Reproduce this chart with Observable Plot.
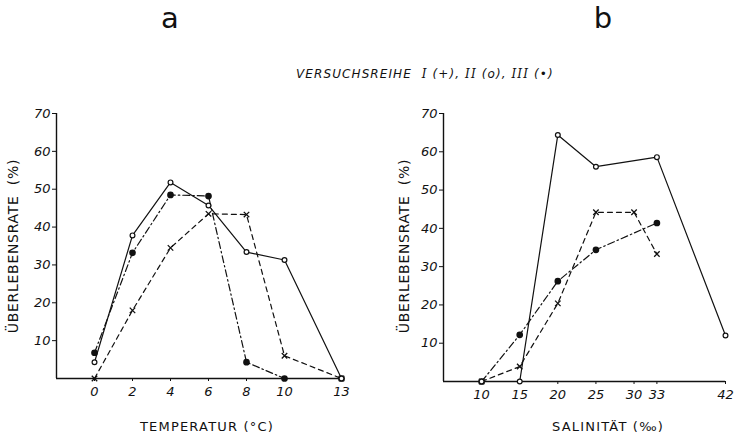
<!DOCTYPE html>
<html>
<head>
<meta charset="utf-8">
<script src="https://cdn.jsdelivr.net/npm/d3@7"></script>
<script src="https://cdn.jsdelivr.net/npm/@observablehq/plot@0.6"></script>
<style>
  html, body { margin: 0; padding: 0; background: #fff; }
  #wrap { position: relative; width: 737px; height: 440px; overflow: hidden; font-family: "DejaVu Sans", sans-serif; color: #111; }
  .abs { position: absolute; white-space: nowrap; }
  .panel { position: absolute; top: 0; }
  .ylab { transform: translate(-50%, -50%) rotate(-90deg); font-size: 14px; letter-spacing: 0.7px; }
  .xlab { transform: translate(-50%, -50%); font-size: 13px; letter-spacing: 1.2px; }
  .letter { transform: translate(-50%, 0); font-size: 29px; line-height: 30px; }
</style>
</head>
<body>
<div id="wrap">
  <div class="abs letter" style="left:170px; top:3px;">a</div>
  <div class="abs letter" style="left:603px; top:3px;">b</div>
  <div class="abs" style="left:296px; top:67px; font-size:12px; font-style:italic; letter-spacing:1.1px;">VERSUCHSREIHE&nbsp; <span style="font-family:'DejaVu Serif',serif;">I</span> (+), <span style="font-family:'DejaVu Serif',serif;">II</span> (<span>o</span>), <span style="font-family:'DejaVu Serif',serif;">III</span> (&#8226;)</div>
  <div class="abs ylab" style="left:13px; top:246px;">ÜBERLEBENSRATE&nbsp; (%)</div>
  <div class="abs ylab" style="left:404px; top:246px;">ÜBERLEBENSRATE&nbsp; (%)</div>
  <div class="abs xlab" style="left:207px; top:426px;">TEMPERATUR (°C)</div>
  <div class="abs xlab" style="left:608px; top:426px;">SALINITÄT (‰)</div>
  <div id="left" class="panel" style="left:0px;"></div>
  <div id="right" class="panel" style="left:390px;"></div>
</div>
<script>
// ---- Panel a: temperature ----
const tempX = [0, 2, 4, 6, 8, 10, 13];
const tempI = [0, 18, 34.5, 43.5, 43.3, 6, 0];       // crosses, dashed
const tempII = [4.3, 37.8, 51.8, 45.7, 33.4, 31.3, 0]; // open circles, solid
const tempIII = [6.8, 33.2, 48.5, 48.2, 4.3, 0, 0];   // filled circles, dash-dot
const tempTicks = [0, 2, 4, 6, 8, 10, 13];

// ---- Panel b: salinity ----
const salXI = [10, 15, 20, 25, 30, 33];
const salI = [0, 3.9, 20.4, 44.2, 44.2, 33.3];
const salXII = [10, 15, 20, 25, 33, 42];
const salII = [0, 0, 64.4, 56.1, 58.6, 12];
const salXIII = [10, 15, 20, 25, 33];
const salIII = [0, 12.2, 26.2, 34.4, 41.4];
const salTicks = [10, 15, 20, 25, 30, 33, 42];

const yTicks = [10, 20, 30, 40, 50, 60, 70];

const toRows = (xs, ys) => xs.map((x, i) => ({x, y: ys[i]}));

const ink = "#111";
const dashI = "5,4";
const dashIII = "7,3,1.5,3";

function panel({xDomain, xTicks, series, width, marginLeft, marginRight, marginBottom}) {
  const [sI, sII, sIII] = series;
  return Plot.plot({
    width, height: 440,
    marginLeft, marginRight, marginTop: 113, marginBottom,
    style: {background: "transparent", color: ink, fontFamily: "DejaVu Sans, sans-serif", overflow: "visible"},
    x: {domain: xDomain},
    y: {domain: [0, 70]},
    marks: [
      Plot.ruleY([0], {stroke: ink, strokeWidth: 1.4}),
      Plot.ruleX([xDomain[0]], {stroke: ink, strokeWidth: 1.4}),
      Plot.axisX(xTicks, {tickSize: 3, tickPadding: 5, fontSize: 13, fontStyle: "italic", label: null, stroke: ink}),
      Plot.axisY(yTicks, {tickSize: 4, tickPadding: 2, fontSize: 13, fontStyle: "italic", label: null, stroke: ink}),
      Plot.line(sI, {x: "x", y: "y", stroke: ink, strokeWidth: 1.2, strokeDasharray: dashI}),
      Plot.line(sIII, {x: "x", y: "y", stroke: ink, strokeWidth: 1.2, strokeDasharray: dashIII}),
      Plot.line(sII, {x: "x", y: "y", stroke: ink, strokeWidth: 1.2}),
      Plot.dot(sI, {x: "x", y: "y", symbol: "times", r: 2.6, stroke: ink, strokeWidth: 1.3}),
      Plot.dot(sIII, {x: "x", y: "y", symbol: "circle", r: 2.6, fill: ink, stroke: ink}),
      Plot.dot(sII, {x: "x", y: "y", symbol: "circle", r: 2.4, fill: "white", stroke: ink, strokeWidth: 1.2})
    ]
  });
}

document.getElementById("left").append(panel({
  xDomain: [-2, 13], xTicks: tempTicks,
  series: [toRows(tempX, tempI), toRows(tempX, tempII), toRows(tempX, tempIII)],
  width: 390, marginLeft: 56, marginRight: 49, marginBottom: 62
}));

document.getElementById("right").append(panel({
  xDomain: [5, 42], xTicks: salTicks,
  series: [toRows(salXI, salI), toRows(salXII, salII), toRows(salXIII, salIII)],
  width: 347, marginLeft: 53, marginRight: 12, marginBottom: 59
}));
</script>
</body>
</html>
